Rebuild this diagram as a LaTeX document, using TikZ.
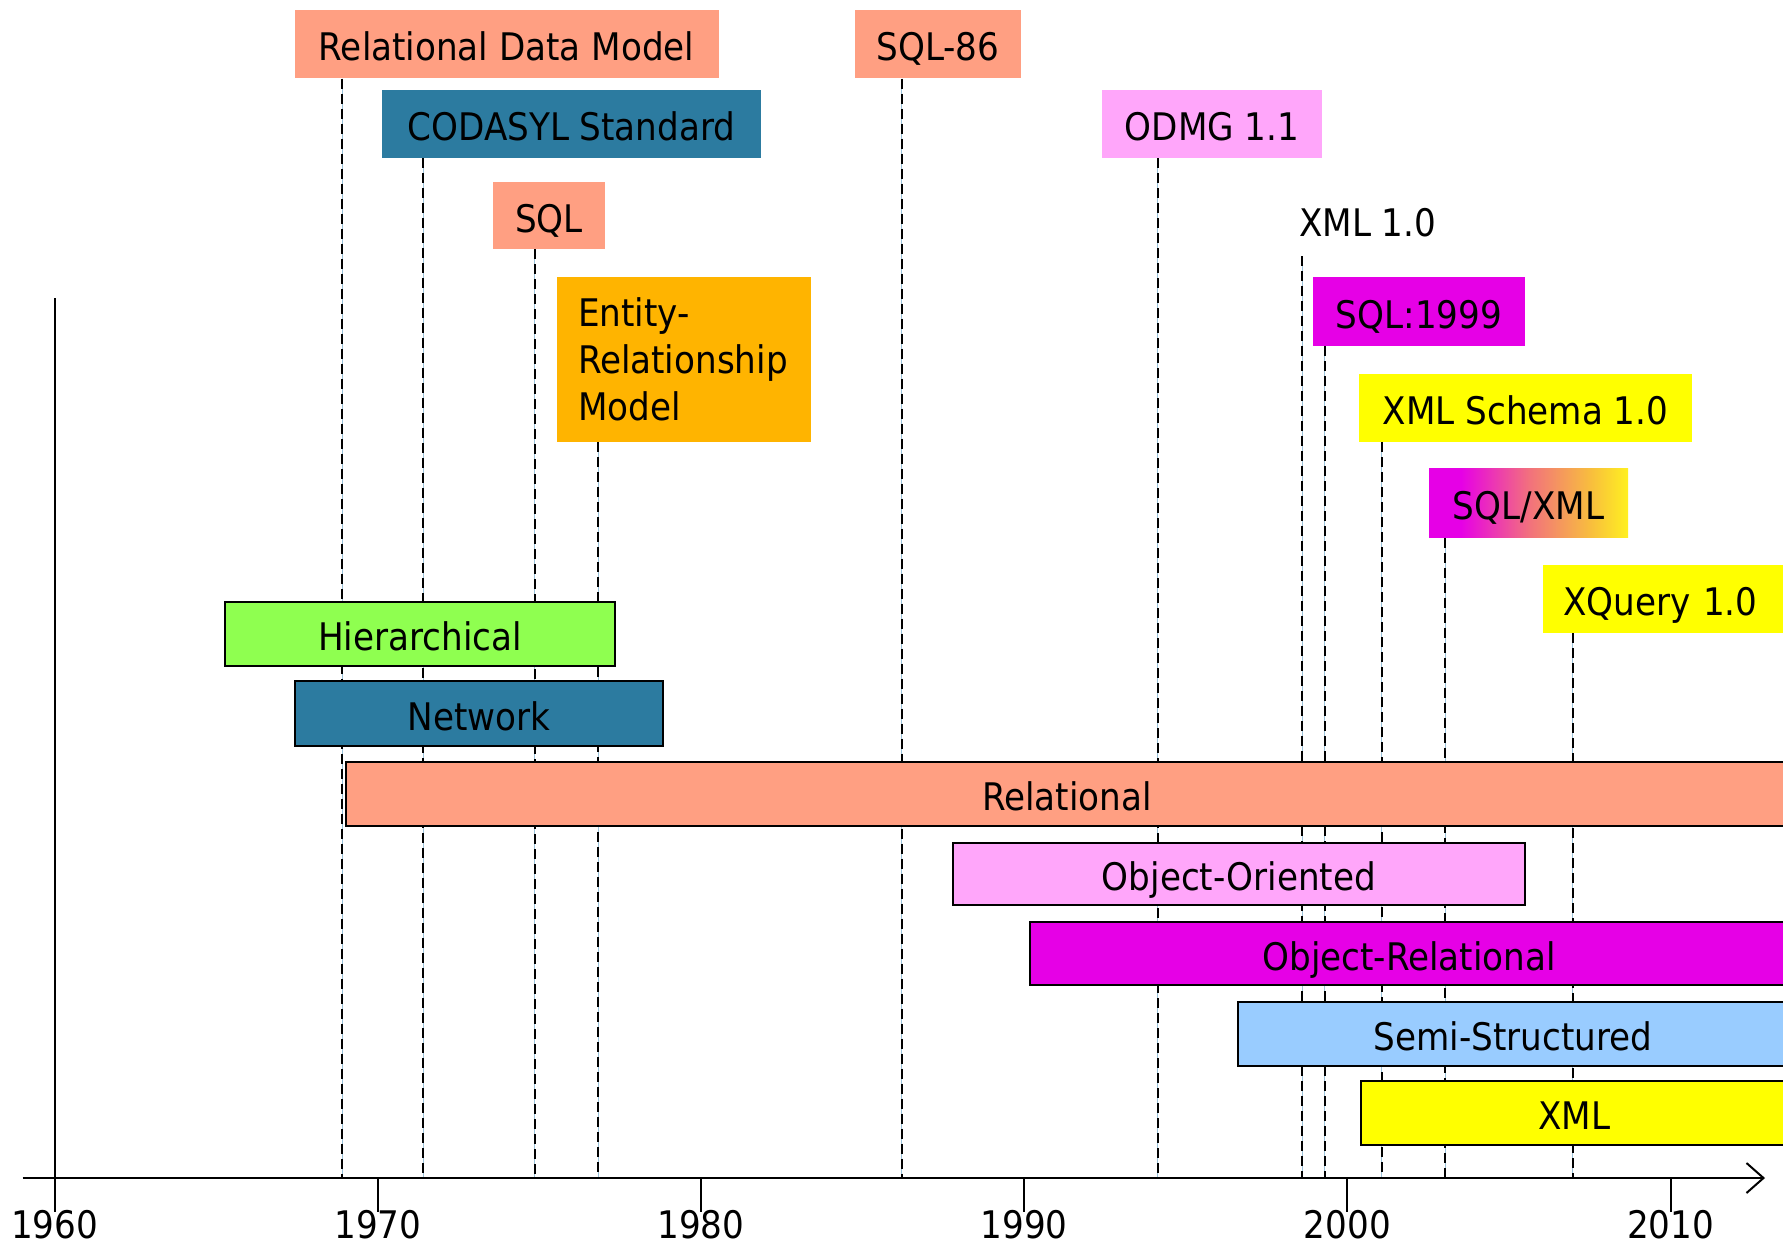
\documentclass[tikz,border=0pt]{standalone}
\usepackage{fontspec}
\setmainfont{DejaVu Sans Condensed}
\usetikzlibrary{arrows.meta}
\definecolor{cSal}{HTML}{FF9F82}
\definecolor{cBlue}{HTML}{2C7BA0}
\definecolor{cOra}{HTML}{FFB400}
\definecolor{cPink}{HTML}{FFA6FA}
\definecolor{cMag}{HTML}{E600E6}
\definecolor{cYel}{HTML}{FFFF00}
\definecolor{cSky}{HTML}{99CCFF}
\definecolor{cGrn}{HTML}{8FFF50}
\definecolor{cDash}{HTML}{9CC3DA}
\definecolor{cMid}{HTML}{F2707E}
\definecolor{cOrY}{HTML}{F8C03C}
\definecolor{cYelB}{HTML}{FFF020}
\pgfdeclarehorizontalshading{sqlxmlshade}{100bp}{color(0bp)=(cMag); color(33bp)=(cMag); color(50bp)=(cMid); color(66bp)=(cOrY); color(75bp)=(cYelB); color(100bp)=(cYelB)}
\begin{document}
\begin{tikzpicture}[x=1pt,y=-1pt,
  font=\fontsize{38}{47}\selectfont,
  lab/.style={inner sep=0pt, minimum height=68pt, text height=33pt, text depth=0pt},
  bar/.style={draw=black, line width=2pt, inner sep=0pt, text height=33pt, text depth=0pt},
  guide/.style={draw=black, line width=2pt, dash pattern=on 10pt off 5pt,
    preaction={draw=cDash, line width=1pt, solid}},
  axisline/.style={draw=black, line width=2pt}]
\clip (0,0) rectangle (1783,1247);
\fill[white] (0,0) rectangle (1783,1247);

% top labels
\node[lab, fill=cSal, minimum width=424pt] (rdm) at (506.6,44.4) {Relational Data Model};
\node[lab, fill=cBlue, minimum width=379pt] (cod) at (571.5,124) {CODASYL Standard};
\node[lab, fill=cSal, minimum width=111.5pt, minimum height=67pt] (sql) at (549,215.5) {SQL};
\node[inner sep=0pt, fill=cOra, minimum width=254pt, minimum height=165pt, align=left, text width=212pt] (er) at (684,359.5) {Entity-\\Relationship\\Model};
\node[lab, fill=cSal, minimum width=166pt] (sqlev) at (938,44.4) {SQL-86};
\node[lab, fill=cPink, minimum width=220pt] (odmg) at (1212,124) {ODMG 1.1};
\node[inner sep=0pt, anchor=west] (xmlten) at (1299,223) {XML 1.0};
\node[lab, fill=cMag, minimum width=212pt, minimum height=69pt] (sqlnn) at (1419,311.5) {SQL:1999};
\node[lab, fill=cYel, minimum width=333pt] (xmls) at (1525.5,408) {XML Schema 1.0};
\node[lab, shading=sqlxmlshade, minimum width=199pt, minimum height=69.5pt] (sqlxml) at (1528.5,503) {SQL/XML};
\node[lab, fill=cYel, anchor=west, minimum width=280pt, text width=240pt, align=left] (xq) at (1543,599) {XQuery 1.0};

% axis coordinates
\coordinate (g1) at (342.3,1178);
\coordinate (g2) at (423,1178);
\coordinate (g3) at (534.5,1178);
\coordinate (g4) at (598,1178);
\coordinate (g5) at (901.7,1178);
\coordinate (g6) at (1157.6,1178);
\coordinate (g7) at (1302,1178);
\coordinate (g7top) at (1302,256);
\coordinate (g8) at (1324.7,1178);
\coordinate (g9) at (1381.6,1178);
\coordinate (g10) at (1445.3,1178);
\coordinate (g11) at (1572.6,1178);

% guide lines
\draw[guide] (rdm.south -| g1) -- (g1);
\draw[guide] (cod.south -| g2) -- (g2);
\draw[guide] (sql.south -| g3) -- (g3);
\draw[guide] (er.south -| g4) -- (g4);
\draw[guide] (sqlev.south -| g5) -- (g5);
\draw[guide] (odmg.south -| g6) -- (g6);
\draw[guide] (g7top) -- (g7);
\draw[guide] (sqlnn.south -| g8) -- (g8);
\draw[guide] (xmls.south -| g9) -- (g9);
\draw[guide] (sqlxml.south -| g10) -- (g10);
\draw[guide] (xq.south -| g11) -- (g11);

% bars
\node[bar, fill=cGrn, minimum width=390pt, minimum height=64.5pt] (hier) at (420,634) {Hierarchical};
\node[bar, fill=cBlue, minimum width=368.5pt, minimum height=65pt] (net) at (478.8,713.5) {Network};
\node[bar, fill=cSal, minimum width=1442pt, minimum height=63.5pt] (rel) at (1067,794) {Relational};
\node[bar, fill=cPink, minimum width=572pt, minimum height=62.5pt] (oo) at (1239,874) {Object-Oriented};
\node[bar, fill=cMag, minimum width=758pt, minimum height=63pt] (orl) at (1409,953.5) {Object-Relational};
\node[bar, fill=cSky, minimum width=550pt, minimum height=63.5pt] (semi) at (1513,1034) {Semi-Structured};
\node[bar, fill=cYel, minimum width=427pt, minimum height=64pt] (xmlb) at (1574.5,1113) {XML};

% axes
\coordinate (ax0) at (22.7,1178);
\coordinate (ax1) at (1765,1178);
\coordinate (ytop) at (54.6,298);
\coordinate (ybot) at (54.6,1212);
\draw[axisline, -{Straight Barb[length=17pt,width=30pt,line width=2pt]}] (ax0) -- (ax1);
\draw[axisline] (ytop) -- (ybot);
\foreach \yr/\xx in {1970/377.8,1980/701,1990/1024.2,2000/1347.4,2010/1670.6}{
  \coordinate (tk\yr) at (\xx,1178);
  \draw[axisline] (tk\yr) -- ++(0,34);
}
\foreach \yr/\xx in {1960/54.6,1970/377.8,1980/701,1990/1024.2,2000/1347.4,2010/1670.6}{
  \node[inner sep=0pt] (lb\yr) at (\xx,1225) {\yr};
}
\end{tikzpicture}
\end{document}
